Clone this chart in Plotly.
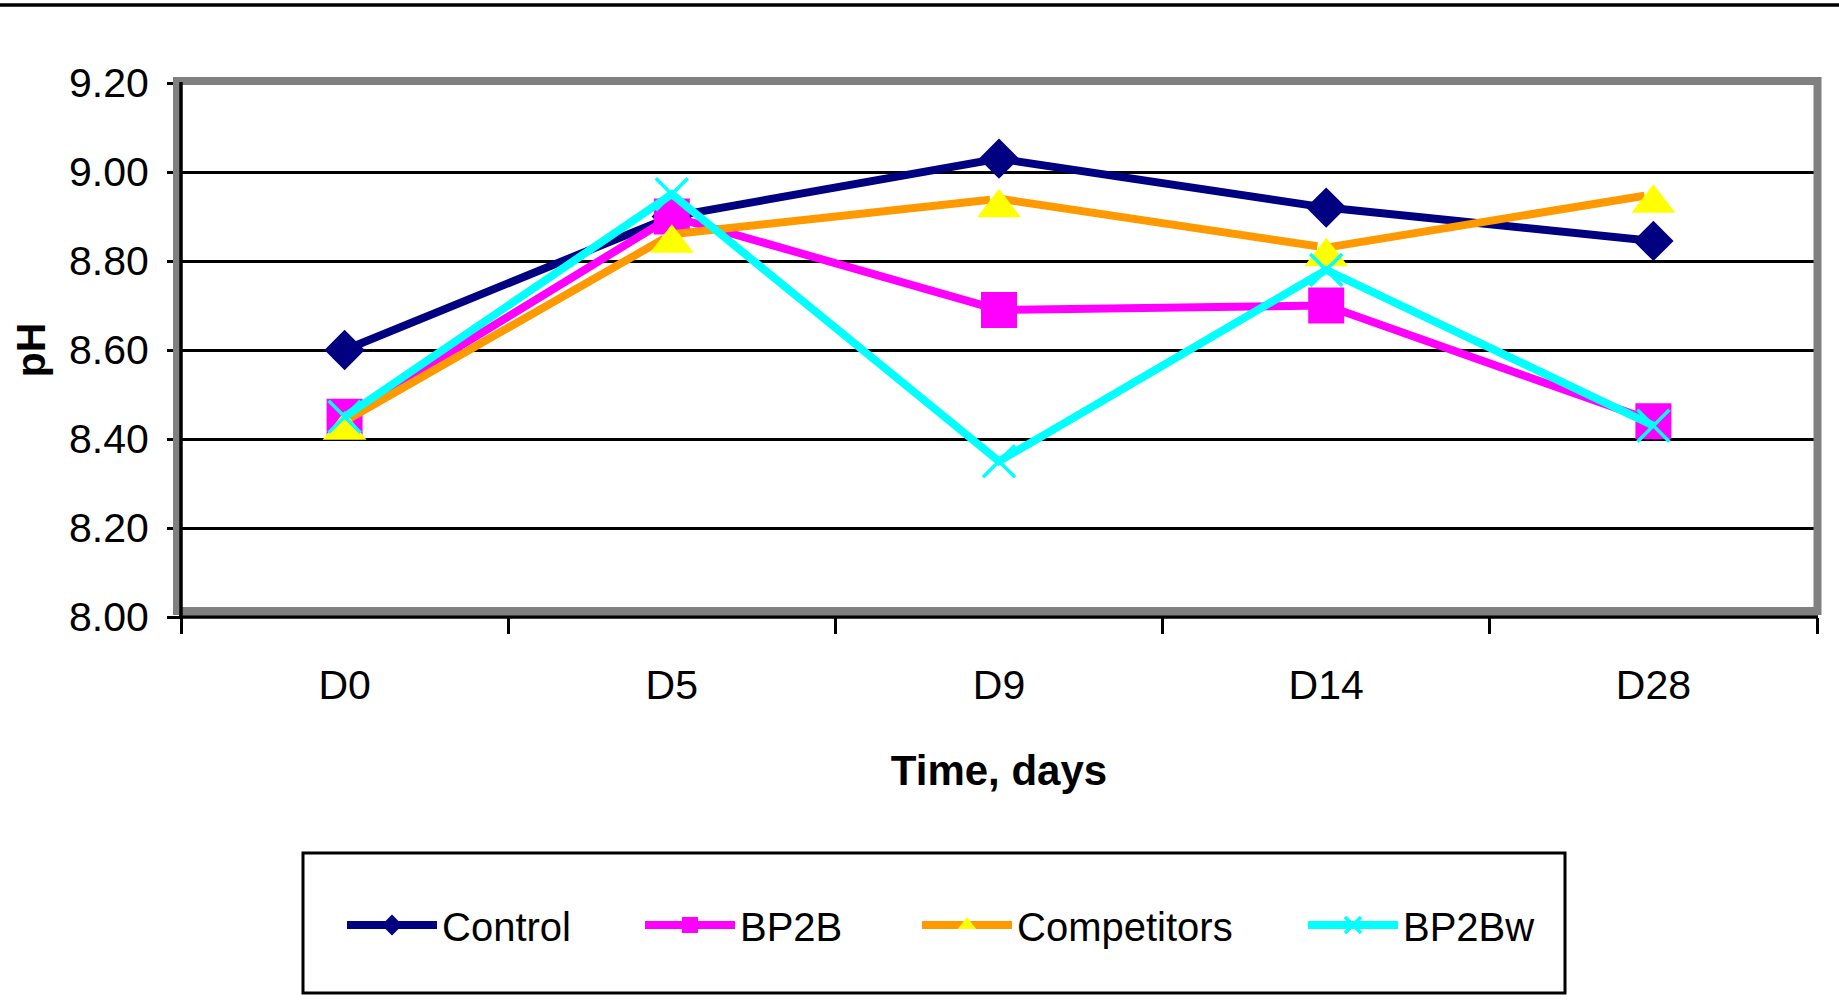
import plotly.graph_objects as go

# ---- data -------------------------------------------------------------
categories = ["D0", "D5", "D9", "D14", "D28"]
control = [8.60, 8.90, 9.03, 8.92, 8.845]
bp2b = [8.45, 8.90, 8.69, 8.70, 8.44]
competitors = [8.44, 8.86, 8.94, 8.83, 8.95]
bp2bw = [8.45, 8.95, 8.35, 8.78, 8.43]
y_ticks = [8.00, 8.20, 8.40, 8.60, 8.80, 9.00, 9.20]
series_names = ["Control", "BP2B", "Competitors", "BP2Bw"]

FONT = "Arial, 'Liberation Sans', sans-serif"
W, H = 1839, 1005
L, R, T, B = 181, 22, 83, 388
PW, PH = W - L - R, H - T - B


def px_x(px):
    return (px - L) / PW


def px_y(py):
    return (H - B - py) / PH


fig = go.Figure()

fig.add_trace(go.Scatter(
    x=categories, y=control, name=series_names[0], mode="lines+markers",
    line=dict(color="#000080", width=8),
    marker=dict(symbol="diamond", size=31, color="#000080"),
    legend="legend"))
fig.add_trace(go.Scatter(
    x=categories, y=bp2b, name=series_names[1], mode="lines+markers",
    line=dict(color="#FF00FF", width=8),
    marker=dict(symbol="square", size=36, color="#FF00FF"),
    legend="legend2"))
# triangle centred on its bounding box (as in the original chart)
fig.add_trace(go.Scatter(
    x=categories, y=competitors, name=series_names[2], mode="lines+markers",
    line=dict(color="#FF9900", width=8),
    marker=dict(symbol="triangle-up", angle=0, standoff=9, size=38, color="#FFFF00"),
    showlegend=False))
# legend entry for Competitors (no marks drawn)
fig.add_trace(go.Scatter(
    x=[None], y=[None], name=series_names[2], mode="lines+markers",
    line=dict(color="#FF9900", width=8),
    marker=dict(symbol="triangle-up", size=38, color="#FFFF00"),
    legend="legend3"))
fig.add_trace(go.Scatter(
    x=categories, y=bp2bw, name=series_names[3], mode="lines+markers",
    line=dict(color="#00FFFF", width=8),
    marker=dict(symbol="x-thin", size=32, color="#00FFFF",
                line=dict(color="#00FFFF", width=3.5)),
    legend="legend4"))

legend_common = dict(
    orientation="h", xanchor="left", yanchor="middle",
    bgcolor="rgba(0,0,0,0)", borderwidth=0, itemwidth=90,
    font=dict(family=FONT, size=40, color="black"),
)
legend_starts = [348, 646, 923, 1309]
legend_y = px_y(925)
legends = {}
for i, sx in enumerate(legend_starts):
    key = "legend" if i == 0 else f"legend{i + 1}"
    legends[key] = dict(legend_common, x=px_x(sx - 6), y=legend_y)

shapes = [
    # gray plot-area frame
    dict(type="rect", xref="paper", yref="paper",
         x0=px_x(177), x1=px_x(1817.5), y0=px_y(611), y1=px_y(81),
         line=dict(color="#808080", width=8), layer="above"),
    # black axis lines
    dict(type="line", xref="paper", yref="paper",
         x0=0, x1=0, y0=0, y1=px_y(82), line=dict(color="black", width=3.5), layer="above"),
    dict(type="line", xref="paper", yref="paper",
         x0=px_x(179), x1=px_x(1818), y0=0, y1=0, line=dict(color="black", width=3.5), layer="above"),
    # top black rule
    dict(type="line", xref="paper", yref="paper",
         x0=px_x(0), x1=px_x(W), y0=px_y(5), y1=px_y(5),
         line=dict(color="black", width=3.5), layer="above"),
    # legend box
    dict(type="rect", xref="paper", yref="paper",
         x0=px_x(303), x1=px_x(1565), y0=px_y(993), y1=px_y(853),
         line=dict(color="black", width=3), layer="above"),
]

fig.update_layout(
    width=W, height=H,
    margin=dict(l=L, r=R, t=T, b=B, autoexpand=False),
    paper_bgcolor="white", plot_bgcolor="white",
    font=dict(family=FONT, color="black"),
    showlegend=True,
    shapes=shapes,
    **legends,
)

fig.update_xaxes(
    type="category", range=[-0.5, 4.5], tickson="boundaries",
    categoryorder="array", categoryarray=categories,
    ticks="outside", ticklen=16, tickwidth=3, tickcolor="black",
    showgrid=False, showline=False, zeroline=False,
    tickfont=dict(family=FONT, size=41, color="black"),
    ticklabelstandoff=40,
    title=dict(text="<b>Time, days</b>", font=dict(family=FONT, size=42, color="black"),
               standoff=48),
    automargin=False,
)
fig.update_yaxes(
    range=[8.0, 9.2], tickvals=y_ticks, tickformat=".2f",
    ticks="outside", ticklen=13, tickwidth=3, tickcolor="black",
    showgrid=True, gridcolor="black", gridwidth=2.5,
    showline=False, zeroline=False,
    tickfont=dict(family=FONT, size=41, color="black"),
    ticklabelstandoff=10,
    title=dict(text="<b>pH</b>", font=dict(family=FONT, size=41, color="black"),
               standoff=10),
    automargin=False,
)

fig.write_html("out.html")
